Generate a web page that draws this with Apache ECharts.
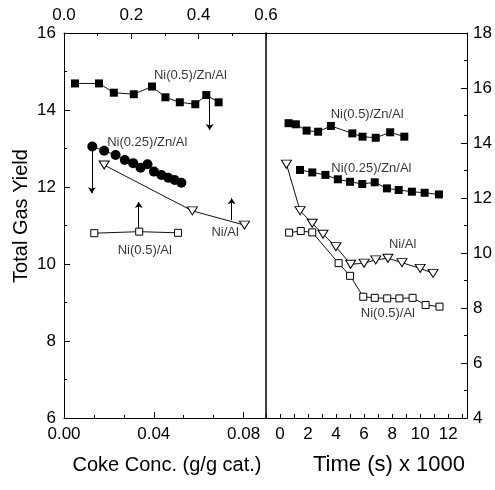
<!DOCTYPE html>
<html>
<head>
<meta charset="utf-8">
<script src="https://cdn.jsdelivr.net/npm/echarts@6/dist/echarts.min.js"></script>
<style>
  html, body { margin: 0; padding: 0; background: #fff; }
  #chart { width: 495px; height: 490px; }
</style>
</head>
<body>
<div id="chart"></div>
<script>
// ---- Left panel: total gas yield vs coke concentration (g/g cat.) ----
const cokeZn05   = [0.0049, 0.0156, 0.0222, 0.0311, 0.0392, 0.0452, 0.0516, 0.0585, 0.0634, 0.0689];
const yieldZn05  = [14.69, 14.69, 14.45, 14.41, 14.61, 14.33, 14.20, 14.15, 14.39, 14.20];
const cokeZn025  = [0.0126, 0.0179, 0.0230, 0.0271, 0.0308, 0.0341, 0.0372, 0.0401, 0.0434, 0.0464, 0.0493, 0.0523];
const yieldZn025 = [13.05, 12.94, 12.83, 12.70, 12.62, 12.50, 12.59, 12.40, 12.31, 12.24, 12.18, 12.11];
const cokeNiAl   = [0.0179, 0.0572, 0.0804];
const yieldNiAl  = [12.57, 11.38, 11.01];
const cokeNi05Al = [0.0135, 0.0335, 0.0508];
const yieldNi05Al = [10.80, 10.84, 10.81];

// ---- Right panel: total gas yield vs time (s x 1000) ----
const timeZn05    = [0.61, 1.13, 1.90, 2.72, 3.63, 5.16, 5.89, 6.83, 7.86, 8.87];
const yieldZn05T  = [14.72, 14.68, 14.45, 14.41, 14.62, 14.35, 14.23, 14.19, 14.39, 14.23];
const timeZn025   = [1.43, 2.30, 3.24, 4.13, 5.00, 5.87, 6.76, 7.63, 8.47, 9.41, 10.32, 11.34];
const yieldZn025T = [13.02, 12.93, 12.84, 12.68, 12.59, 12.51, 12.57, 12.35, 12.29, 12.23, 12.19, 12.13];
const timeNiAl    = [0.46, 1.43, 2.30, 3.07, 3.99, 5.04, 6.00, 6.83, 7.70, 8.70, 10.00, 10.92];
const yieldNiAlT  = [13.23, 11.54, 11.08, 10.68, 10.23, 9.59, 9.63, 9.75, 9.81, 9.65, 9.44, 9.26];
const timeNi05Al  = [0.65, 1.48, 2.30, 4.18, 5.00, 5.94, 6.76, 7.65, 8.52, 9.46, 10.39, 11.38];
const yieldNi05AlT = [10.74, 10.80, 10.75, 9.63, 9.17, 8.41, 8.37, 8.35, 8.35, 8.37, 8.11, 8.05];

// Series names (also drawn as in-plot labels)
const names = ['Ni(0.5)/Zn/Al', 'Ni(0.25)/Zn/Al', 'Ni/Al', 'Ni(0.5)/Al'];
// Label anchor points [x, y] in data units, same order as names
const labelsLeft  = [[0.0563, 14.91], [0.0371, 13.17], [0.0718, 10.82], [0.0360, 10.36]];
const labelsRight = [[6.22, 15.05], [6.52, 13.09], [8.75, 10.33], [7.70, 7.82]];
// Vertical arrows in the left panel: [x, yFrom, yTo]
const arrowsLeft = [[0.0649, 14.34, 13.48], [0.0124, 13.04, 11.84], [0.0333, 10.94, 11.61], [0.0747, 11.14, 11.71]];

const FONT = '"Liberation Sans", Arial, Helvetica, sans-serif';
const BLACK = '#000';

const zip = (xs, ys) => xs.map((x, i) => [x, ys[i]]);

function majorAxis(extra) {
  return Object.assign({
    type: 'value',
    axisLine: { show: true, onZero: false, lineStyle: { color: BLACK, width: 1 } },
    axisTick: { show: true, inside: true, length: 6, lineStyle: { color: BLACK, width: 1 } },
    axisLabel: { show: true, color: BLACK, fontSize: 17, fontFamily: FONT, margin: 7 },
    splitLine: { show: false }
  }, extra);
}
function minorAxis(extra) {
  return Object.assign({
    type: 'value',
    axisLine: { show: false, onZero: false },
    axisTick: { show: true, inside: true, length: 3, lineStyle: { color: BLACK, width: 1 } },
    axisLabel: { show: false },
    splitLine: { show: false }
  }, extra);
}
function lineOnly(extra) {
  return Object.assign({
    type: 'value',
    axisLine: { show: true, onZero: false, lineStyle: { color: BLACK, width: 1.5 } },
    axisTick: { show: false },
    axisLabel: { show: false },
    splitLine: { show: false }
  }, extra);
}
const isInt = v => Math.abs(v - Math.round(v)) < 1e-6;

const xAxis = [
  // 0: coke concentration, bottom of left panel
  majorAxis({ gridIndex: 0, position: 'bottom', min: 0, max: 0.09, interval: 0.04,
    axisLabel: { show: true, color: BLACK, fontSize: 17, fontFamily: FONT, margin: 8,
      showMaxLabel: false, formatter: v => v.toFixed(2) } }),
  // 1: minor ticks for coke concentration
  minorAxis({ gridIndex: 0, position: 'bottom', min: 0, max: 0.09, interval: 0.04 / 3 }),
  // 2: top scale of left panel
  majorAxis({ gridIndex: 0, position: 'top', min: 0, max: 0.6, interval: 0.2,
    axisLabel: { show: true, color: BLACK, fontSize: 17, fontFamily: FONT, margin: 9,
      formatter: v => v.toFixed(1) } }),
  // 3: minor ticks for top scale
  minorAxis({ gridIndex: 0, position: 'top', min: 0, max: 0.6, interval: 0.1 }),
  // 4: time, bottom of right panel
  majorAxis({ gridIndex: 1, position: 'bottom', min: -1, max: 13.35, interval: 1,
    axisTick: { show: true, inside: true, length: 4, lineStyle: { color: BLACK, width: 1 } },
    axisLabel: { show: true, color: BLACK, fontSize: 17, fontFamily: FONT, margin: 8, interval: 0,
      formatter: v => (isInt(v) && Math.round(v) % 2 === 0 && v >= 0 && v <= 12) ? String(Math.round(v)) : '' } }),
  // 5: top border of right panel
  lineOnly({ gridIndex: 1, position: 'top', min: -1, max: 13.35,
    axisLine: { show: true, onZero: false, lineStyle: { color: BLACK, width: 1 } } })
];

const yAxis = [
  // 0: left panel yield scale
  majorAxis({ gridIndex: 0, position: 'left', min: 6, max: 16, interval: 2,
    axisLabel: { show: true, color: BLACK, fontSize: 17, fontFamily: FONT, margin: 8 } }),
  // 1: minor ticks, left scale
  minorAxis({ gridIndex: 0, position: 'left', min: 6, max: 16, interval: 1 }),
  // 2: right panel yield scale
  majorAxis({ gridIndex: 1, position: 'right', min: 4, max: 18, interval: 2,
    axisLabel: { show: true, color: BLACK, fontSize: 17, fontFamily: FONT, margin: 6 } }),
  // 3: minor ticks, right scale
  minorAxis({ gridIndex: 1, position: 'right', min: 4, max: 18, interval: 1 }),
  // 4: divider between the two panels
  lineOnly({ gridIndex: 1, position: 'left', min: 4, max: 18 })
];

const lineStyle = { color: '#111', width: 1 };
const filled = { color: '#000', borderColor: '#000', borderWidth: 0 };
const hollow = { color: '#fff', borderColor: '#000', borderWidth: 1 };

function curve(x, y, data, symbol, size, item, rotate) {
  return {
    type: 'line', xAxisIndex: x, yAxisIndex: y, data: data,
    symbol: symbol, symbolSize: size, symbolRotate: rotate || 0,
    showAllSymbol: true, animation: false,
    lineStyle: lineStyle, itemStyle: item, z: 3
  };
}
function textLabels(x, y, points) {
  return {
    type: 'scatter', xAxisIndex: x, yAxisIndex: y, symbolSize: 0, animation: false, z: 5,
    silent: true,
    data: points.map((p, i) => ({ value: p, name: names[i] })),
    label: { show: true, position: 'inside', formatter: '{b}', color: BLACK,
      fontSize: 13, fontFamily: FONT }
  };
}

const series = [
  // left panel
  curve(0, 0, zip(cokeZn05, yieldZn05), 'rect', 8, filled),
  curve(0, 0, zip(cokeZn025, yieldZn025), 'circle', 10, filled),
  curve(0, 0, zip(cokeNiAl, yieldNiAl), 'triangle', [10, 8], hollow, 180),
  curve(0, 0, zip(cokeNi05Al, yieldNi05Al), 'rect', 7, hollow),
  textLabels(0, 0, labelsLeft),
  {
    type: 'lines', coordinateSystem: 'cartesian2d', xAxisIndex: 0, yAxisIndex: 0,
    symbol: ['none', 'arrow'], symbolSize: 6, animation: false, z: 4,
    lineStyle: { color: BLACK, width: 1, opacity: 1, curveness: 0 },
    data: arrowsLeft.map(a => ({ coords: [[a[0], a[1]], [a[0], a[2]]] }))
  },
  // right panel
  curve(4, 2, zip(timeZn05, yieldZn05T), 'rect', 8, filled),
  curve(4, 2, zip(timeZn025, yieldZn025T), 'rect', 8, filled),
  curve(4, 2, zip(timeNiAl, yieldNiAlT), 'triangle', [10, 8], hollow, 180),
  curve(4, 2, zip(timeNi05Al, yieldNi05AlT), 'rect', 7, hollow),
  textLabels(4, 2, labelsRight)
];

const chart = echarts.init(document.getElementById('chart'), null, { renderer: 'canvas' });
chart.setOption({
  backgroundColor: '#fff',
  animation: false,
  grid: [
    { left: 64, top: 33, width: 202, height: 385, containLabel: false },
    { left: 266, top: 33, width: 204, height: 385, containLabel: false }
  ],
  xAxis: xAxis,
  yAxis: yAxis,
  series: series,
  graphic: [
    { type: 'text', x: 21, y: 216, rotation: Math.PI / 2,
      style: { text: 'Total Gas Yield', fill: BLACK, fontSize: 20, fontFamily: FONT,
        textAlign: 'center', textVerticalAlign: 'middle' } },
    { type: 'text', x: 167, y: 465,
      style: { text: 'Coke Conc. (g/g cat.)', fill: BLACK, fontSize: 20, fontFamily: FONT,
        textAlign: 'center', textVerticalAlign: 'middle' } },
    { type: 'text', x: 389, y: 465,
      style: { text: 'Time (s) x 1000', fill: BLACK, fontSize: 22, fontFamily: FONT,
        textAlign: 'center', textVerticalAlign: 'middle' } }
  ]
});
</script>
</body>
</html>
